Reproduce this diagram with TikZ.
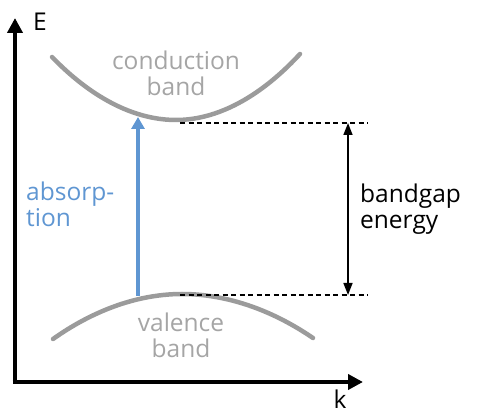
\documentclass[tikz,border=0pt]{standalone}
\usepackage{fontspec}
\setmainfont{Open Sans}
\usetikzlibrary{arrows.meta}
\definecolor{bandgray}{RGB}{155,155,155}
\definecolor{labelgray}{RGB}{165,165,165}
\definecolor{absblue}{RGB}{95,150,210}
\tikzset{
  axis/.style={line width=4.6pt, -{Triangle[length=15pt,width=15pt]}},
  band/.style={bandgray, line width=4.5pt, line cap=round},
  guide/.style={black, line width=1.3pt, dash pattern=on 5pt off 3.5pt},
  gaparrow/.style={black, line width=1.6pt, {Triangle[length=12pt,width=9pt]}-{Triangle[length=12pt,width=9pt]}},
  absarrow/.style={absblue, line width=3.6pt, -{Triangle[length=12pt,width=13pt]}},
  lbl/.style={font=\fontsize{24.5}{26}\selectfont, inner sep=0pt, align=center},
}
\begin{document}
\begin{tikzpicture}[x=1pt, y=-1pt]
\useasboundingbox (0,0) rectangle (477,414);

% axes
\coordinate (origin) at (15,382);
\coordinate (etop) at (15,18);
\coordinate (kend) at (363,382);
\draw[axis] ([xshift=-2.3pt]origin) -- (kend);
\draw[axis] ([yshift=2.3pt]origin) -- (etop);
\node[lbl, anchor=west] (elabel) at (33,22) {E};
\node[lbl, anchor=north] (klabel) at (340,390) {k};

% bands
\draw[band] (52,57) parabola bend (176,120) (300,54);
\draw[band] (53,339) parabola bend (182,294) (313,338);
\node[lbl, labelgray] (cb) at (176,73) {conduction\\band};
\node[lbl, labelgray] (vb) at (181,335) {valence\\band};

% band edges and gap
\coordinate (cbmin) at (180,123);
\coordinate (vbmax) at (180,295);
\coordinate (cbr) at (368,123);
\coordinate (vbr) at (368,295);
\draw[guide] (cbmin) -- (cbr);
\draw[guide] (vbmax) -- (vbr);
\coordinate (gtop) at (348,123);
\coordinate (gbot) at (348,295);
\draw[gaparrow] (gtop) -- (gbot);
\node[lbl, anchor=west, align=left] (gap) at (360,209) {bandgap\\energy};

% absorption
\coordinate (absfrom) at (138,296);
\coordinate (absto) at (138,117);
\draw[absarrow] (absfrom) -- (absto);
\node[lbl, absblue, anchor=west, align=left] (abs) at (26,204) {absorp-\\tion};
\end{tikzpicture}
\end{document}
